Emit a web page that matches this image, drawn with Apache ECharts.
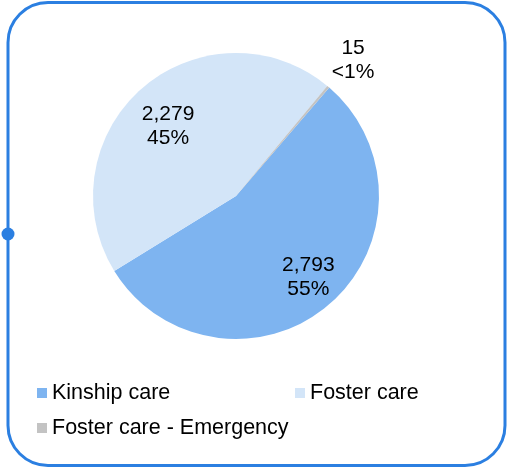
<!DOCTYPE html>
<html>
<head>
<meta charset="utf-8">
<script src="https://cdn.jsdelivr.net/npm/echarts@6/dist/echarts.min.js"></script>
<style>
  html, body { margin: 0; padding: 0; background: #fff; }
  #chart { width: 510px; height: 471px; }
</style>
</head>
<body>
<div id="chart"></div>
<script>
// Placement categories and counts
const categories = ['Kinship care', 'Foster care', 'Foster care - Emergency'];
const counts = [2793, 2279, 15];
const shareLabels = ['55%', '45%', '<1%'];
const colors = ['#7eb4f0', '#d3e5f8', '#c3c3c3'];

const fmt = n => n.toLocaleString('en-US');
const font = '"Liberation Sans", Arial, sans-serif';

// label nudges from the default inside position, per slice
const labelOffsets = [[24, 25], [-19, -14], [69, -79]];

const chart = echarts.init(document.getElementById('chart'));

const data = categories.map((name, i) => ({
  name,
  value: counts[i],
  itemStyle: { color: colors[i] },
  label: {
    show: true,
    position: 'inside',
    offset: labelOffsets[i],
    formatter: () => fmt(counts[i]) + '\n' + shareLabels[i]
  }
}));

const legendBase = {
  icon: 'rect',
  itemWidth: 10,
  itemHeight: 10,
  itemGap: 5,
  selectedMode: false,
  textStyle: { fontFamily: font, fontSize: 21.5, color: '#000' },
  padding: 0
};

chart.setOption({
  animation: false,
  backgroundColor: '#fff',
  legend: [
    Object.assign({}, legendBase, { data: [categories[0]], left: 37, top: 382 }),
    Object.assign({}, legendBase, { data: [categories[1]], left: 295, top: 382 }),
    Object.assign({}, legendBase, { data: [categories[2]], left: 37, top: 417 })
  ],
  graphic: [
    {
      type: 'rect',
      shape: { x: 8, y: 2.5, width: 497, height: 463, r: 40 },
      style: { fill: 'none', stroke: '#2b7fe1', lineWidth: 3 },
      silent: true
    },
    {
      type: 'circle',
      shape: { cx: 8, cy: 234, r: 6.5 },
      style: { fill: '#2b7fe1' },
      silent: true
    }
  ],
  series: [{
    type: 'pie',
    center: [236, 196],
    radius: [0, 143],
    startAngle: 49.3,
    clockwise: true,
    avoidLabelOverlap: false,
    silent: true,
    label: {
      fontFamily: font,
      fontSize: 21,
      lineHeight: 24,
      color: '#000',
      align: 'center'
    },
    labelLine: { show: false },
    itemStyle: { borderWidth: 0 },
    data
  }]
});
</script>
</body>
</html>
